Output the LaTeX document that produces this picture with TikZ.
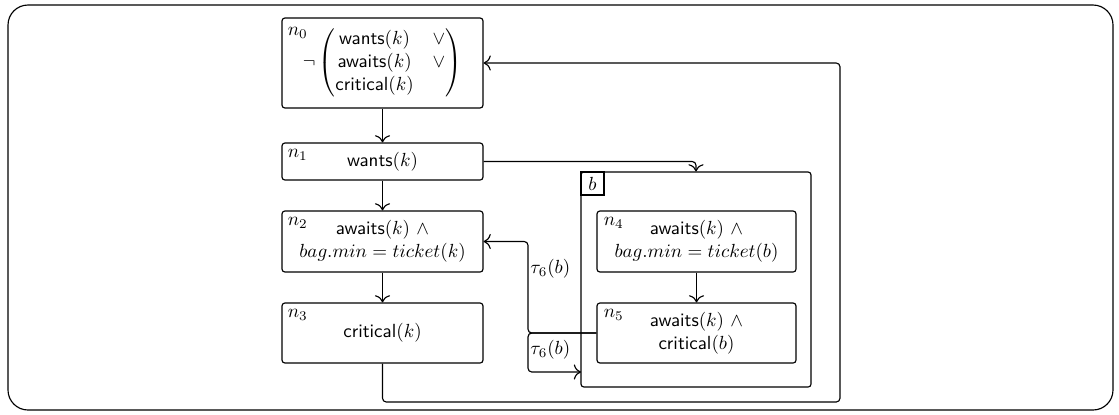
\documentclass[tikz,border=0pt]{standalone}
\usepackage{amsmath}
\usetikzlibrary{arrows.meta}
\newcommand\pxu{0.0185cm}
\begin{document}
\begin{tikzpicture}[x=0.0185cm,y=-0.0185cm,
  >={To[scale=1.3]},
  st/.style={draw, rounded corners=1.5pt, line width=0.6pt, align=center, inner sep=0pt},
  lbl/.style={anchor=base west, inner sep=0pt},
  arr/.style={->, rounded corners=2pt, line width=0.6pt}]
\useasboundingbox (0,0) rectangle (1119,414);
\draw[line width=0.6pt, rounded corners=0.37cm] (8,5) rectangle (1113,410);
% left column
\node[st, minimum width=201*\pxu, minimum height=90*\pxu] (n0) at (382.5,63)
  {$\neg\begin{pmatrix}\textsf{wants}(k) & \vee\\ \textsf{awaits}(k) & \vee\\ \textsf{critical}(k) & \end{pmatrix}$};
\node[st, minimum width=201*\pxu, minimum height=37*\pxu] (n1) at (382.5,161.5) {\textsf{wants}$(k)$};
\node[st, minimum width=201*\pxu, minimum height=61*\pxu] (n2) at (382.5,241.5)
  {\textsf{awaits}$(k)$ $\wedge$\\ $bag.min=ticket(k)$};
\node[st, minimum width=201*\pxu, minimum height=60*\pxu] (n3) at (382.5,333) {\textsf{critical}$(k)$};
% box b
\node[draw, rounded corners=1.5pt, line width=0.6pt, minimum width=230*\pxu, minimum height=215*\pxu] (b) at (696,279.5) {};
\node[draw, line width=0.6pt, anchor=north west, minimum size=23*\pxu, inner sep=0pt] (bl) at (b.north west) {$b$};
\node[st, minimum width=199*\pxu, minimum height=61*\pxu] (n4) at (696.5,241.5)
  {\textsf{awaits}$(k)$ $\wedge$\\ $bag.min=ticket(b)$};
\node[st, minimum width=199*\pxu, minimum height=60*\pxu] (n5) at (696.5,333)
  {\textsf{awaits}$(k)$ $\wedge$\\ \textsf{critical}$(b)$};
% labels
\node[lbl] (l0) at ([shift={(6,18)}]n0.north west) {$n_0$};
\node[lbl] (l1) at ([shift={(6,15)}]n1.north west) {$n_1$};
\node[lbl] (l2) at ([shift={(6,15)}]n2.north west) {$n_2$};
\node[lbl] (l3) at ([shift={(6,15)}]n3.north west) {$n_3$};
\node[lbl] (l4) at ([shift={(7,15)}]n4.north west) {$n_4$};
\node[lbl] (l5) at ([shift={(7,15)}]n5.north west) {$n_5$};
% connectors
\coordinate (j) at (528,333);
\coordinate (bt) at (581,372);
\coordinate (r) at (840,402);
\draw[arr] (n0.south) -- (n1.north);
\draw[arr] (n1.south) -- (n2.north);
\draw[arr] (n2.south) -- (n3.north);
\draw[arr] (n4.south) -- (n5.north);
\draw[arr] (n1.east) -| (b.north);
\draw[arr] (n5.west) -- (j) |- node[pos=0.35, anchor=west, inner sep=1pt] {$\tau_6(b)$} (n2.east);
\draw[arr] (n5.west) -- (j) |- node[pos=0.22, anchor=west, inner sep=1pt] {$\tau_6(b)$} (bt);
\draw[arr] (n3.south) |- (r) |- (n0.east);
\end{tikzpicture}
\end{document}
